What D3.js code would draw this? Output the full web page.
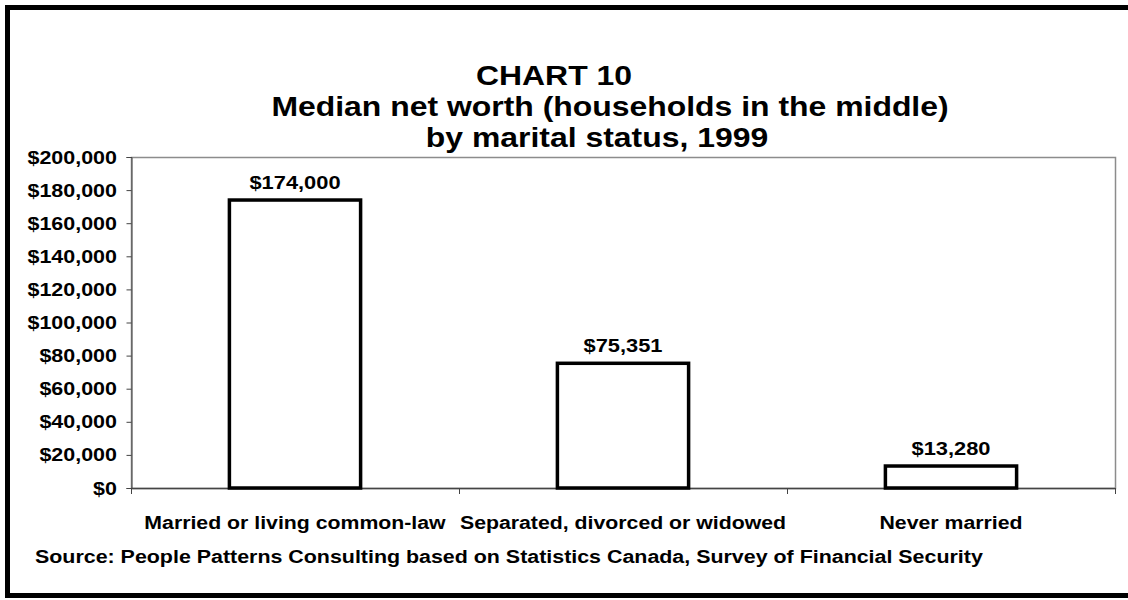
<!DOCTYPE html>
<html>
<head>
<meta charset="utf-8">
<script src="https://cdn.jsdelivr.net/npm/d3@7"></script>
<style>
  html, body { margin: 0; padding: 0; background: #fff; }
  svg { display: block; font-family: "Liberation Sans", Arial, sans-serif; font-weight: bold; }
</style>
</head>
<body>
<svg id="chart" width="1128" height="600"></svg>
<script>
// Median net worth by marital status, 1999
const categories = ["Married or living common-law", "Separated, divorced or widowed", "Never married"];
const values = [174000, 75351, 13280];
const valueLabels = ["$174,000", "$75,351", "$13,280"];
const yTicks = [0, 20000, 40000, 60000, 80000, 100000, 120000, 140000, 160000, 180000, 200000];
const titleLines = ["CHART 10", "Median net worth (households in the middle)", "by marital status, 1999"];
const sourceText = "Source: People Patterns Consulting based on Statistics Canada, Survey of Financial Security";

const svg = d3.select("#chart");
const W = 1128, H = 600;
const plot = { left: 131, right: 1115, top: 157, bottom: 488 };

// text in this chart is set slightly wide
function wideText(parent, px, py, str, size, sx, anchor) {
  const g = parent.append("g").attr("transform", `translate(${px},${py}) scale(${sx},1)`);
  g.append("text")
    .attr("x", 0).attr("y", 0)
    .attr("text-anchor", anchor || "start")
    .attr("font-size", size)
    .attr("fill", "#000")
    .text(str);
  return g;
}

svg.append("rect").attr("width", W).attr("height", H).attr("fill", "#fff");

// outer frame (right side runs past the edge)
svg.append("rect")
  .attr("x", 7.5).attr("y", 7.5).attr("width", 1140).attr("height", 588)
  .attr("fill", "none").attr("stroke", "#000").attr("stroke-width", 5);

// title, three lines
const titleCenters = [554, 610, 597];
const titleG = svg.append("g");
titleLines.forEach((t, i) => wideText(titleG, titleCenters[i], 85 + i * 31, t, 28, 1.14, "middle"));

const x = d3.scaleBand().domain(categories).range([plot.left, plot.right])
  .paddingInner(0.6).paddingOuter(0.3);
const y = d3.scaleLinear().domain([0, 200000]).range([plot.bottom, plot.top]);

// plot frame
svg.append("rect")
  .attr("x", plot.left + 0.5).attr("y", plot.top + 0.5)
  .attr("width", plot.right - plot.left).attr("height", plot.bottom - plot.top)
  .attr("fill", "#fff").attr("stroke", "#8c8c8c").attr("stroke-width", 1.5);

// y axis
const yAxis = d3.axisLeft(y).tickValues(yTicks).tickSize(5).tickFormat(() => "");
const gy = svg.append("g").attr("transform", `translate(${plot.left + 0.5},0)`).call(yAxis);
gy.select(".domain").attr("stroke", "#444");
gy.selectAll(".tick line").attr("stroke", "#444");
const fmt = d => "$" + d3.format(",")(d);
const gyl = svg.append("g");
yTicks.forEach(v => wideText(gyl, 117, y(v) + 6.5, fmt(v), 19, 1.13, "end"));

// x axis with ticks on category boundaries
const edge = i => plot.left + i * x.step();
const gx = svg.append("g");
gx.append("line")
  .attr("x1", plot.left).attr("x2", plot.right)
  .attr("y1", plot.bottom + 0.5).attr("y2", plot.bottom + 0.5)
  .attr("stroke", "#444").attr("stroke-width", 1.5);
gx.selectAll(".tk").data(d3.range(categories.length + 1)).join("line")
  .attr("class", "tk")
  .attr("x1", i => edge(i) + 0.5).attr("x2", i => edge(i) + 0.5)
  .attr("y1", plot.bottom).attr("y2", plot.bottom + 6)
  .attr("stroke", "#444").attr("stroke-width", 1);

// bars
svg.append("g").selectAll("rect").data(values).join("rect")
  .attr("x", (d, i) => x(categories[i]))
  .attr("y", d => y(d))
  .attr("width", x.bandwidth())
  .attr("height", d => y(0) - y(d))
  .attr("fill", "#fff").attr("stroke", "#000").attr("stroke-width", 3.5);

// value labels
const gv = svg.append("g");
values.forEach((v, i) =>
  wideText(gv, x(categories[i]) + x.bandwidth() / 2, y(v) - 11, valueLabels[i], 19, 1.15, "middle"));

// category labels
const gc = svg.append("g");
categories.forEach(c => wideText(gc, x(c) + x.bandwidth() / 2, 529, c, 19, 1.12, "middle"));

// source
wideText(svg, 35, 563, sourceText, 18, 1.19, "start");
</script>
</body>
</html>
